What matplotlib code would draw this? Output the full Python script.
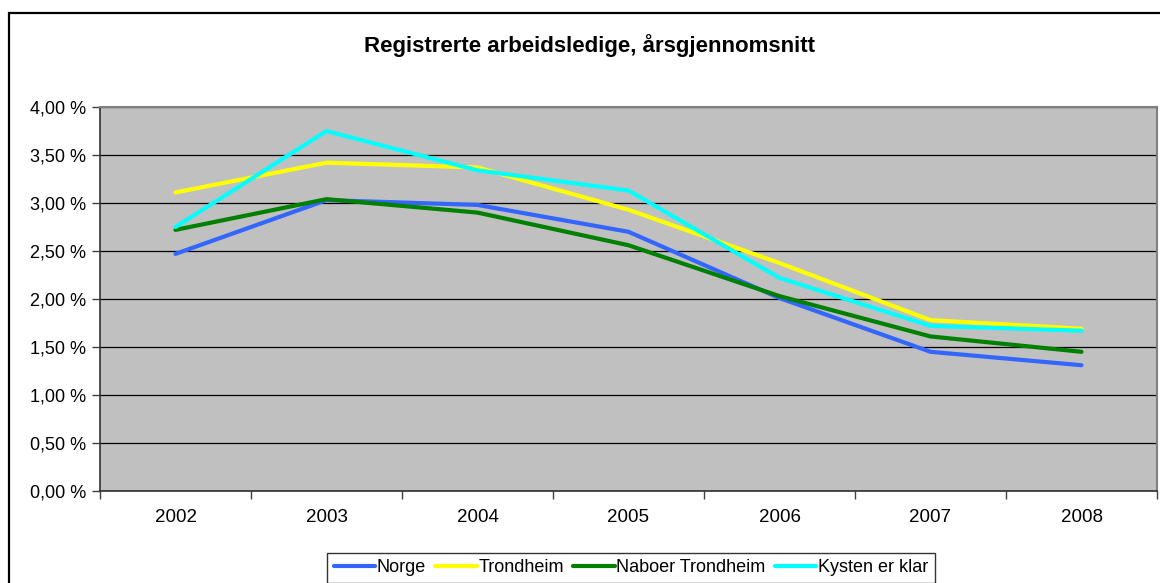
import matplotlib.pyplot as plt
import matplotlib.patches as patches
from matplotlib.ticker import FixedLocator, FuncFormatter

plt.rcParams['font.family'] = ['Liberation Sans', 'DejaVu Sans']

years = ['2002', '2003', '2004', '2005', '2006', '2007', '2008']
norge = [2.47, 3.03, 2.98, 2.70, 2.01, 1.45, 1.31]
trondheim = [3.11, 3.42, 3.37, 2.93, 2.375, 1.78, 1.69]
naboer = [2.72, 3.04, 2.90, 2.56, 2.03, 1.61, 1.45]
kysten = [2.75, 3.75, 3.34, 3.13, 2.22, 1.72, 1.67]

series = [
    ('Norge', norge, '#3366FF'),
    ('Trondheim', trondheim, '#FFFF00'),
    ('Naboer Trondheim', naboer, '#008000'),
    ('Kysten er klar', kysten, '#00FFFF'),
]

W, H = 1160, 583
fig = plt.figure(figsize=(W / 100, H / 100), dpi=100)
ax = fig.add_axes([100 / W, (H - 491) / H, (1157 - 100) / W, (491 - 107) / H])
ax.set_facecolor('#C0C0C0')

x = list(range(len(years)))
for name, vals, col in series:
    ax.plot(x, vals, color=col, lw=3, label=name, solid_capstyle='round')

ax.set_xlim(-0.5, len(years) - 0.5)
ax.set_ylim(0, 4.0)
ax.set_yticks([i * 0.5 for i in range(9)])
ax.yaxis.set_major_formatter(FuncFormatter(lambda v, p: f'{v:.2f} %'.replace('.', ',')))
ax.grid(axis='y', color='black', lw=0.9)
ax.set_axisbelow(True)

ax.xaxis.set_major_locator(FixedLocator([i - 0.5 for i in range(len(years) + 1)]))
ax.xaxis.set_minor_locator(FixedLocator(x))
ax.set_xticklabels([], minor=False)
ax.set_xticklabels(years, minor=True)
ax.tick_params(axis='x', which='major', length=6, width=1, color='#404040', direction='out')
ax.tick_params(axis='x', which='minor', length=0, pad=13, labelsize=13.5)
ax.tick_params(axis='y', length=6, width=1, color='#404040', labelsize=13, pad=4)

for s in ['top', 'right']:
    ax.spines[s].set_color('#808080')
    ax.spines[s].set_linewidth(1.5)
for s in ['left', 'bottom']:
    ax.spines[s].set_color('#303030')
    ax.spines[s].set_linewidth(1.2)

fig.text(590 / W, 1 - 46 / H, 'Registrerte arbeidsledige, årsgjennomsnitt',
         ha='center', va='center', fontsize=16, fontweight='bold')

# outer chart border (cut off at the right and bottom)
fig.add_artist(patches.Rectangle((9 / W, -0.1), 1.2, 1.1 - 13 / H, transform=fig.transFigure,
                                 fill=False, edgecolor='black', lw=1.6))

leg = fig.legend(loc='center', bbox_to_anchor=(631 / W, 1 - 568 / H), ncol=4,
                 frameon=True, fancybox=False, edgecolor='black', fontsize=13,
                 handlelength=2.3, handletextpad=0.1, columnspacing=0.5,
                 borderpad=0.35)
leg.get_frame().set_linewidth(1.0)

fig.savefig('out.png', dpi=100)
